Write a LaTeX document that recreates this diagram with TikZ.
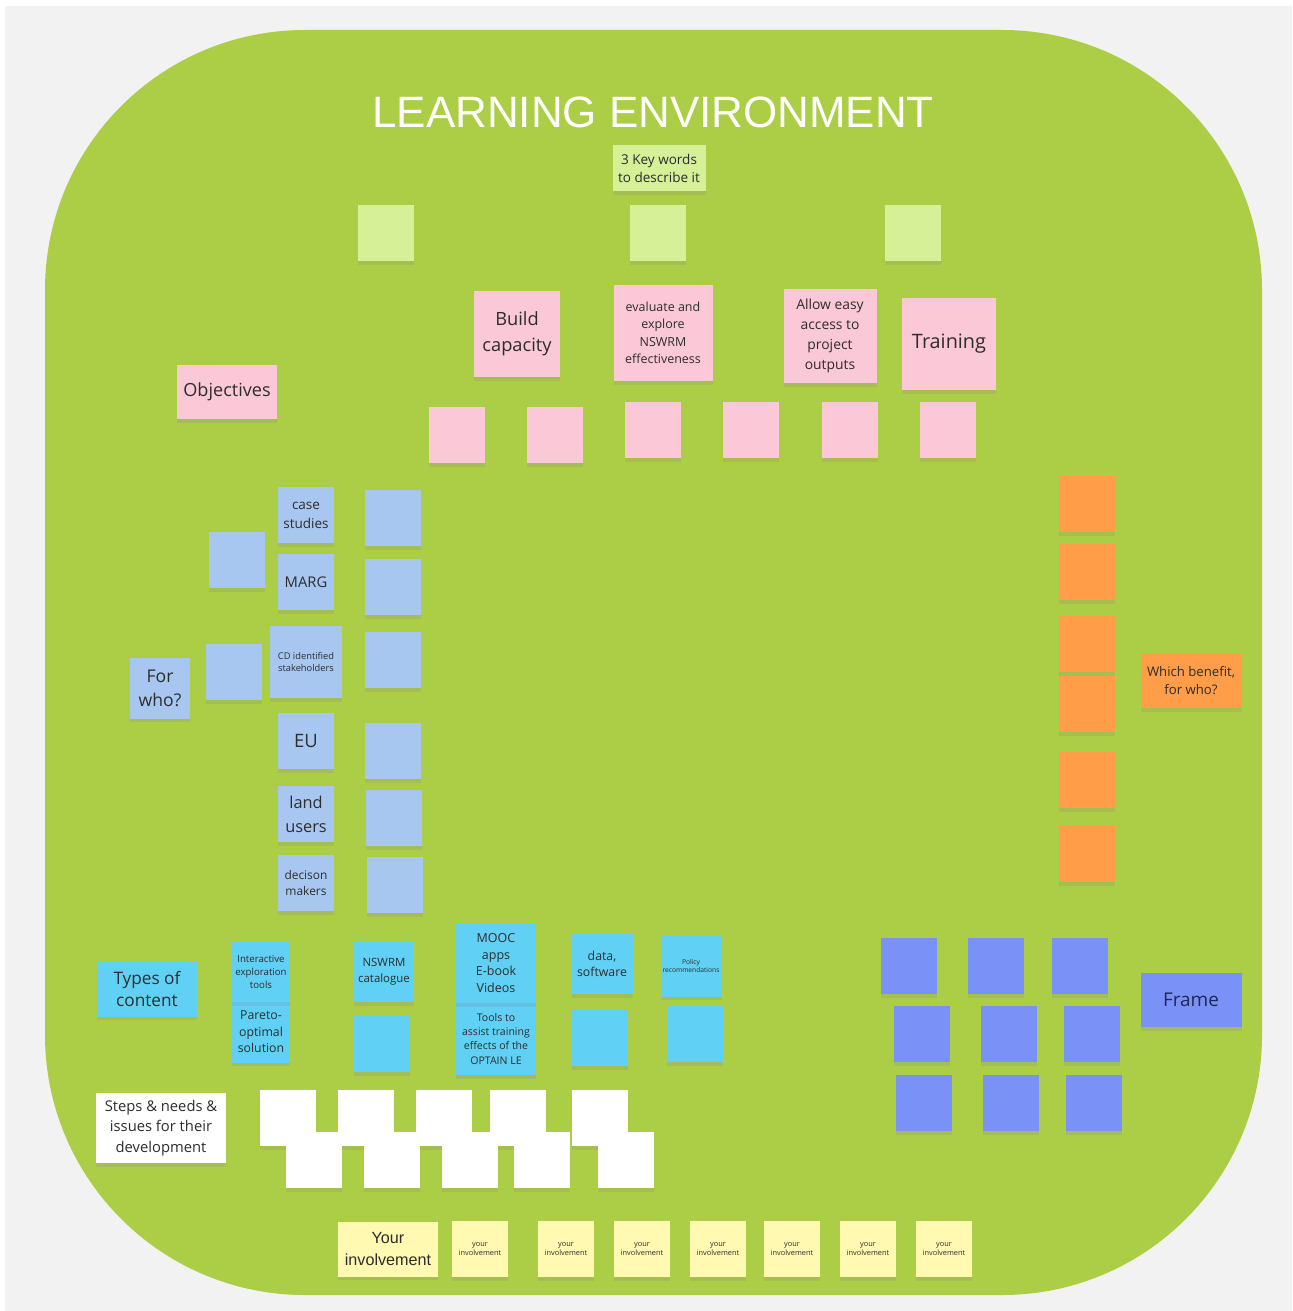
\documentclass[tikz,border=0pt]{standalone}
\usepackage{fontspec}
\setmainfont{Open Sans}
\newfontfamily\arialfont{Liberation Sans}
\usetikzlibrary{shadows}

\definecolor{boardgreen}{RGB}{172,206,70}
\definecolor{boardgray}{RGB}{242,242,242}
\definecolor{kwgreen}{RGB}{213,240,150}
\definecolor{notepink}{RGB}{250,200,214}
\definecolor{noteblue}{RGB}{168,199,240}
\definecolor{noteorange}{RGB}{255,157,72}
\definecolor{notecyan}{RGB}{96,208,244}
\definecolor{noteviolet}{RGB}{122,146,248}
\definecolor{noteyellow}{RGB}{255,249,177}
\definecolor{notetext}{RGB}{45,45,45}
\definecolor{frametext}{RGB}{30,40,85}

\newcommand{\nf}[2]{\fontsize{#1}{#2}\selectfont}

\tikzset{
  note/.style={inner sep=1pt, align=center, text=notetext,
    drop shadow={shadow xshift=0pt, shadow yshift=-2pt, opacity=0.18}},
  sq/.style={note, minimum width=1.12cm, minimum height=1.12cm},
}

\begin{document}
\begin{tikzpicture}[x=0.02cm, y=-0.02cm]
    \useasboundingbox (0,0) rectangle (1292,1311);
    \fill[white] (0,0) rectangle (1292,1311);
    \fill[boardgray] (5,6) rectangle (1292,1311);
    \fill[boardgreen, rounded corners=5.2cm] (45,30) rectangle (1262,1295);

    \node[text=white, font=\arialfont\nf{25}{30}] (title) at (653,112) {LEARNING ENVIRONMENT};

    % key words
    \node[note, fill=kwgreen, minimum width=1.86cm, minimum height=0.94cm, font=\nf{7.7}{10.2}] (keywords) at (659,168) {3 Key words\\to describe it};
    \foreach \x [count=\i] in {386,658,913}
      \node[sq, fill=kwgreen] (kw\i) at (\x,233) {};

    % objectives
    \node[note, fill=notepink, minimum width=1.72cm, minimum height=1.74cm, font=\nf{10.4}{14.7}] (build) at (517,334) {Build\\capacity};
    \node[note, fill=notepink, minimum width=1.98cm, minimum height=1.94cm, font=\nf{7.1}{9.9}] (evaluate) at (663,333) {evaluate and\\explore\\NSWRM\\effectiveness};
    \node[note, fill=notepink, minimum width=1.86cm, minimum height=1.88cm, font=\nf{7.9}{11.3}] (access) at (830,336) {Allow easy\\access to\\project\\outputs};
    \node[note, fill=notepink, minimum width=1.88cm, minimum height=1.86cm, font=\nf{11.3}{14}] (training) at (949,344) {Training};
    \node[note, fill=notepink, minimum width=2cm, minimum height=1.08cm, font=\nf{10.3}{12}] (objectives) at (227,392) {Objectives};
    \foreach \x/\y [count=\i] in {457/435,555/435,653/430,751/430,850/430,948/430}
      \node[sq, fill=notepink] (obj\i) at (\x,\y) {};

    % for who
    \node[sq, fill=noteblue, font=\nf{7.7}{10.8}] (casestudies) at (306,515) {case\\studies};
    \node[sq, fill=noteblue, font=\nf{8.4}{10}] (marg) at (306,582) {MARG};
    \node[note, fill=noteblue, minimum width=1.46cm, minimum height=1.44cm, font=\nf{5.3}{6.8}] (cdstake) at (306,662) {CD identified\\stakeholders};
    \node[sq, fill=noteblue, font=\nf{10.5}{12}] (eu) at (306,741) {EU};
    \node[sq, fill=noteblue, font=\nf{9.3}{13.6}] (landusers) at (306,814) {land\\users};
    \node[sq, fill=noteblue, font=\nf{6.8}{9.6}] (decision) at (306,883) {decison\\makers};
    \foreach \x/\y [count=\i] in {393/518,393/587,393/660,393/751,394/818,395/885,237/560,234/672}
      \node[sq, fill=noteblue] (who\i) at (\x,\y) {};
    \node[note, fill=noteblue, minimum width=1.2cm, minimum height=1.22cm, font=\nf{10}{13.6}] (forwho) at (160,688) {For\\who?};

    % benefits
    \foreach \y [count=\i] in {504,572,644,704,780,854}
      \node[sq, fill=noteorange] (ben\i) at (1087,\y) {};
    \node[note, fill=noteorange, minimum width=2.02cm, minimum height=1.08cm, font=\nf{7.5}{10.2}] (benefit) at (1191,681) {Which benefit,\\for who?};

    % types of content
    \node[note, fill=notecyan, minimum width=2cm, minimum height=1.1cm, font=\nf{9.8}{13}] (types) at (147,989) {Types of\\content};
    \node[note, fill=notecyan, minimum width=1.18cm, minimum height=1.22cm, font=\nf{7}{9.4}] (pareto) at (261,1032) {Pareto-\\optimal\\solution};
    \node[note, fill=notecyan, minimum width=1.18cm, minimum height=1.2cm, font=\nf{5.5}{7.4}] (interactive) at (261,972) {Interactive\\exploration\\tools};
    \node[note, fill=notecyan, minimum width=1.2cm, minimum height=1.2cm, font=\nf{6.5}{9}] (catalogue) at (384,972) {NSWRM\\catalogue};
    \node[sq, fill=notecyan] (cyan1) at (382,1044) {};
    \node[note, fill=notecyan, minimum width=1.6cm, minimum height=1.44cm, font=\nf{6}{8}] (tools) at (496,1039) {Tools to\\assist training\\effects of the\\OPTAIN LE};
    \node[note, fill=notecyan, minimum width=1.6cm, minimum height=1.6cm, font=\nf{7.1}{9.6}] (mooc) at (496,963) {MOOC\\apps\\E-book\\Videos};
    \node[note, fill=notecyan, minimum width=1.22cm, minimum height=1.2cm, font=\nf{7}{9}] (data) at (602,964) {data,\\software};
    \node[sq, fill=notecyan] (cyan2) at (600,1038) {};
    \node[note, fill=notecyan, minimum width=1.22cm, minimum height=1.22cm, font=\nf{3.8}{4.6}] (policy) at (691,966) {Policy\\recommendations};
    \node[sq, fill=notecyan] (cyan3) at (695,1034) {};

    % frame
    \foreach \x/\y [count=\i] in {909/966,996/966,1080/966,922/1034,1009/1034,1092/1034,924/1103,1011/1103,1094/1103}
      \node[sq, fill=noteviolet] (frm\i) at (\x,\y) {};
    \node[note, fill=noteviolet, text=frametext, minimum width=2.02cm, minimum height=1.08cm, font=\nf{10.8}{13}] (frame) at (1191,1000) {Frame};

    % steps
    \node[note, fill=white, minimum width=2.6cm, minimum height=1.4cm, font=\nf{8.4}{11.6}] (steps) at (161,1128) {Steps \& needs \&\\issues for their\\development};
    \foreach \x [count=\i] in {288,366,444,518,600}
      \node[sq, fill=white] (stepA\i) at (\x,1118) {};
    \foreach \x [count=\i] in {314,392,470,542,626}
      \node[sq, fill=white] (stepB\i) at (\x,1160) {};

    % involvement
    \node[note, fill=noteyellow, minimum width=2cm, minimum height=1.1cm, font=\arialfont\nf{9.2}{12}] (involve) at (388,1249) {Your\\involvement};
    \foreach \x [count=\i] in {480,566,642,718,792,868,944}
      \node[sq, fill=noteyellow, font=\nf{4.2}{5.2}] (inv\i) at (\x,1249) {your\\involvement};
\end{tikzpicture}
\end{document}
